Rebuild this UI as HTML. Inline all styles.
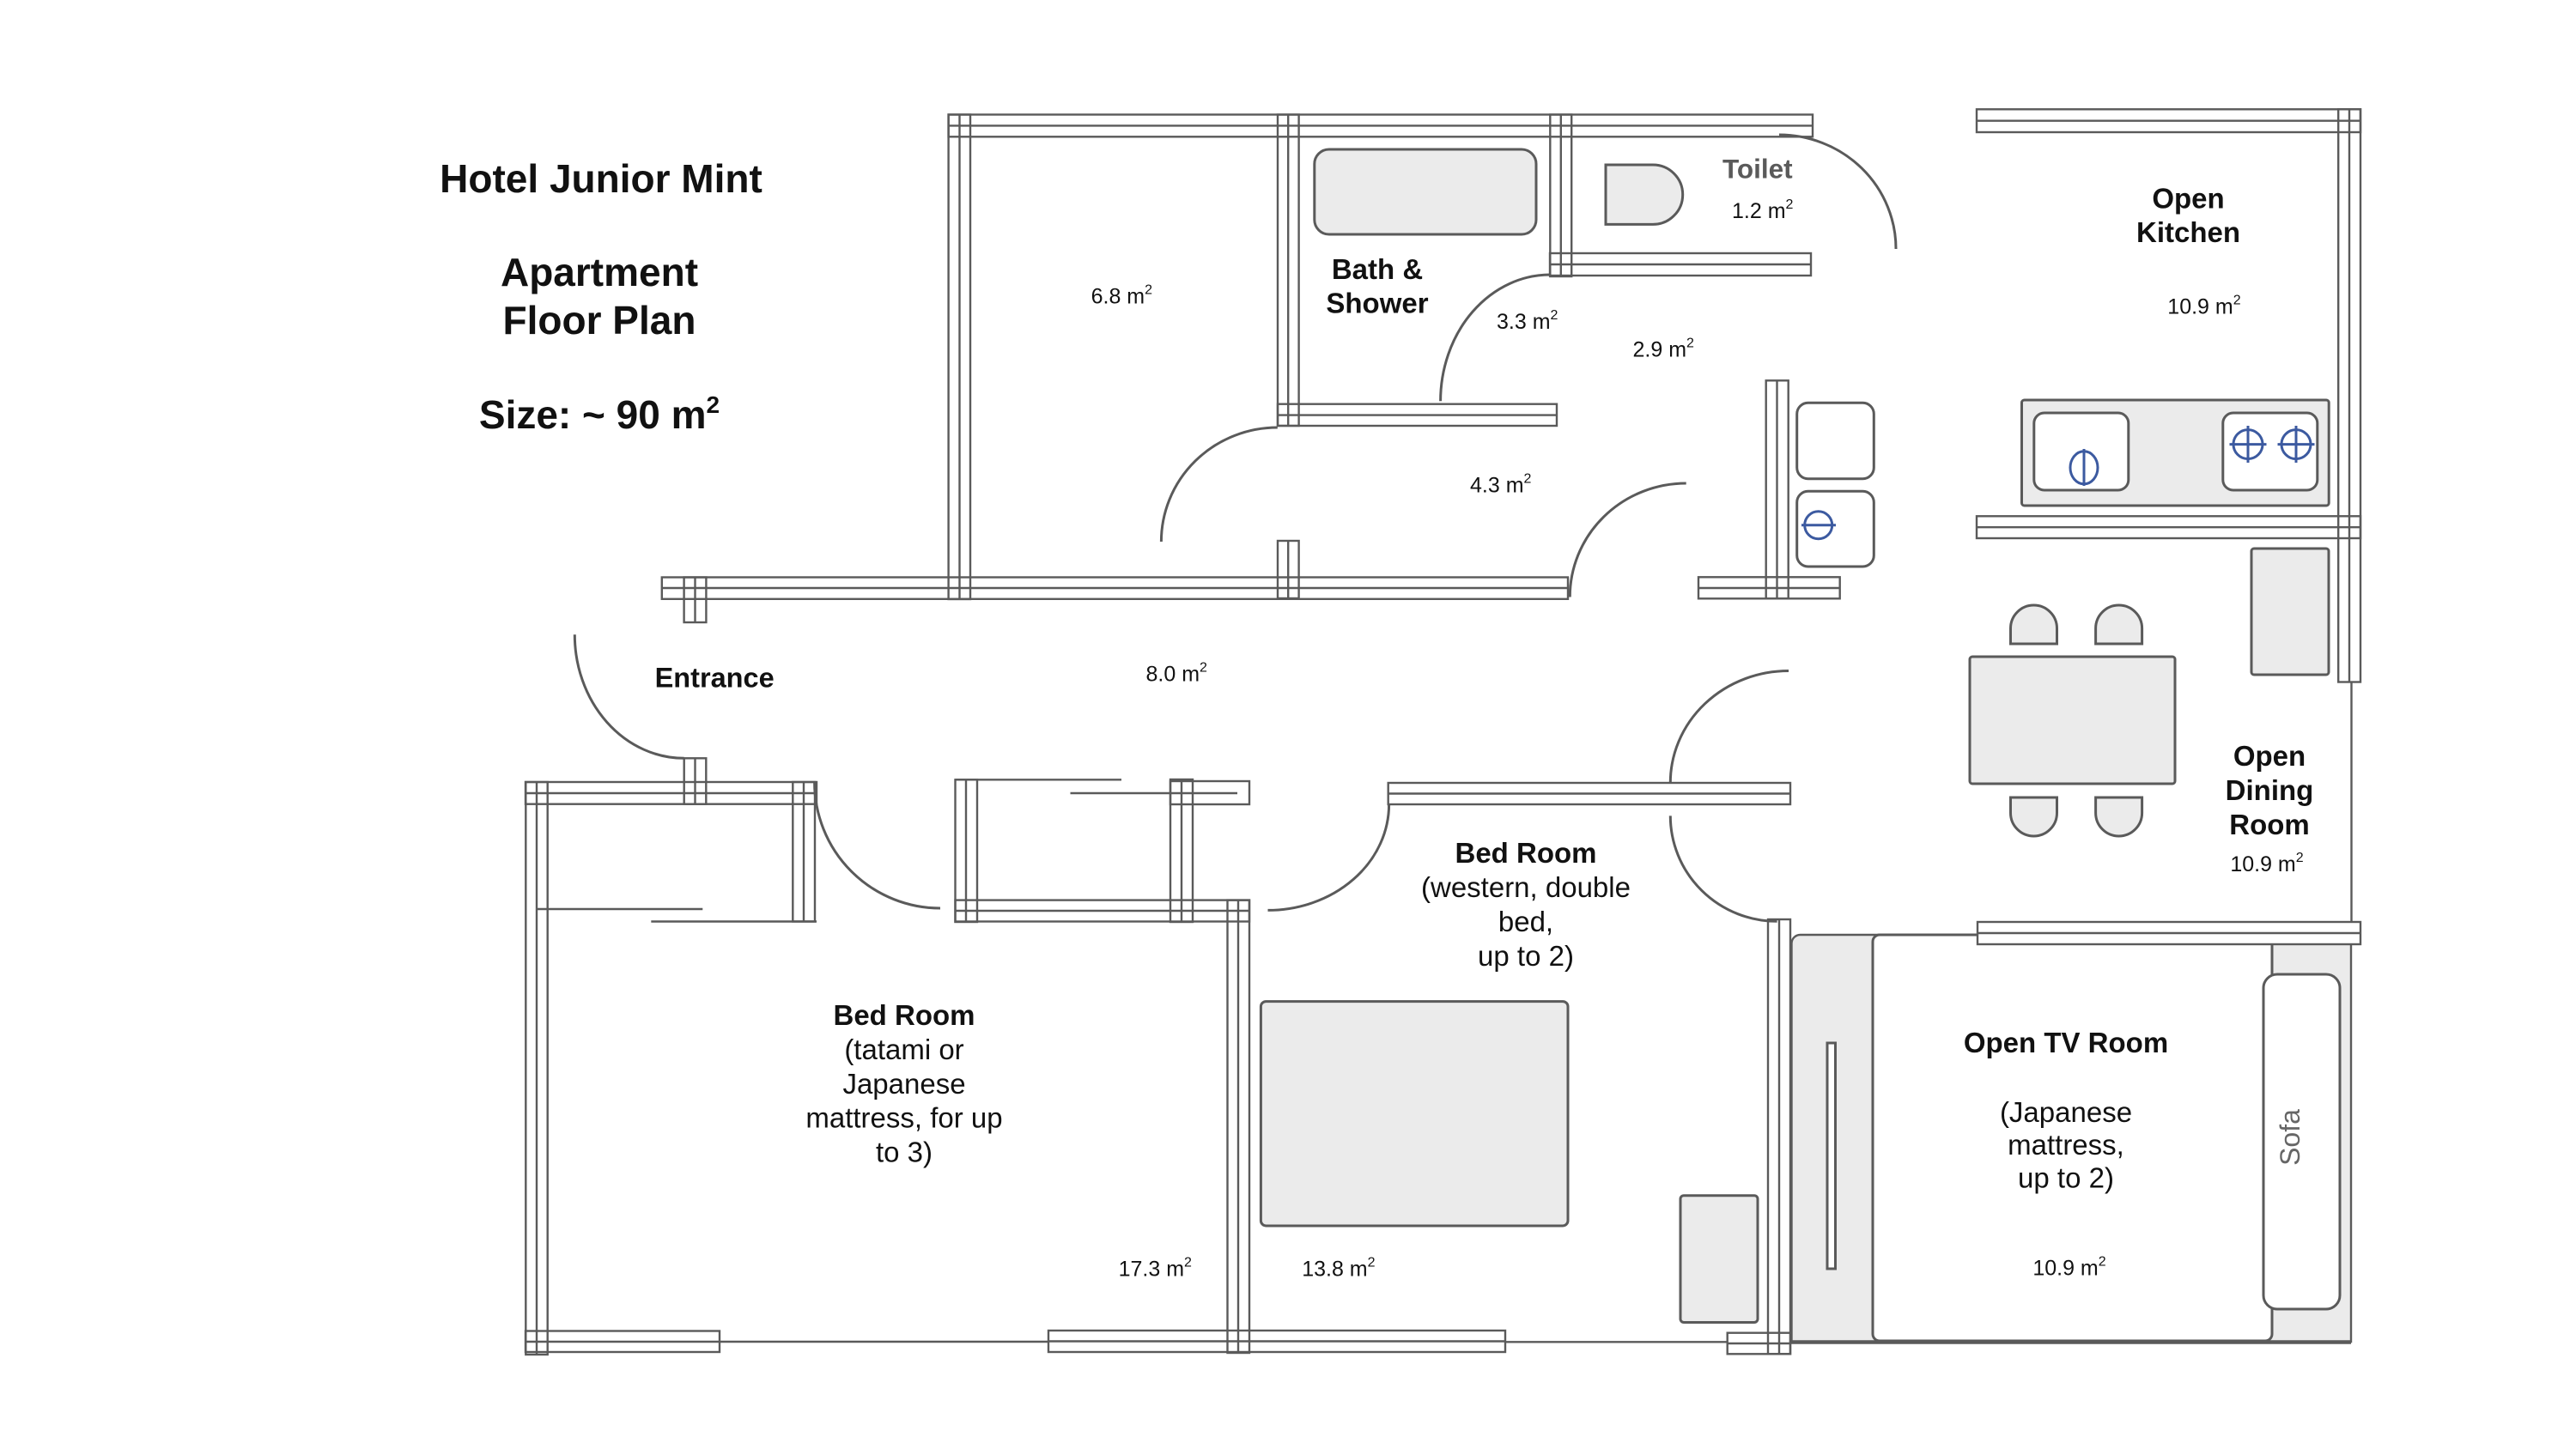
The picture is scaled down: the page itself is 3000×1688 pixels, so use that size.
<!DOCTYPE html>
<html>
<head>
<meta charset="utf-8">
<style>
  html, body { margin:0; padding:0; background:#ffffff; }
  svg { display:block; }
  .w { fill:none; stroke:#5a5a5a; stroke-width:2.4; }
  .l { fill:none; stroke:#5a5a5a; stroke-width:2.4; }
  .d { fill:none; stroke:#5a5a5a; stroke-width:3; }
  .g { fill:#ebebeb; stroke:#5a5a5a; stroke-width:3; }
  .wh { fill:#ffffff; stroke:#5a5a5a; stroke-width:3; }
  .b { fill:none; stroke:#3c5aa0; stroke-width:3; }
  text { font-family:"Liberation Sans", Arial, sans-serif; fill:#111; }
  .t { font-weight:bold; font-size:46px; }
  .h { font-weight:bold; font-size:33px; }
  .r { font-size:33px; }
  .a { font-size:25px; }
</style>
</head>
<body>
<svg width="3000" height="1688" viewBox="0 0 3000 1688" xmlns="http://www.w3.org/2000/svg">
<rect x="0" y="0" width="3000" height="1688" fill="#ffffff"/>

<!-- Title -->
<text class="t" x="700" y="224" text-anchor="middle">Hotel Junior Mint</text>
<text class="t" x="698" y="333" text-anchor="middle">Apartment</text>
<text class="t" x="698" y="389" text-anchor="middle">Floor Plan</text>
<text class="t" x="698" y="499" text-anchor="middle">Size: ~ 90 m<tspan font-size="28" dy="-18">2</tspan></text>

<!-- TV room gray floor -->
<path d="M2096.5 1089 H2738 V1563 H2086.5 V1099 A10 10 0 0 1 2096.5 1089 Z" fill="#ebebeb" stroke="#5a5a5a" stroke-width="2.4"/>
<line x1="2086" y1="1563.5" x2="2738" y2="1563.5" stroke="#5a5a5a" stroke-width="4.5"/>
<rect x="2181" y="1089" width="465" height="473" rx="8" class="wh"/>
<rect x="2636" y="1135" width="89" height="390" rx="16" class="wh"/>
<rect x="2128" y="1215" width="9.5" height="263" class="wh" stroke-width="2.4"/>
<text x="2667" y="1325" font-size="32" fill="#666" text-anchor="middle" dominant-baseline="central" transform="rotate(-90 2667 1325)" style="fill:#666">Sofa</text>

<!-- Horizontal walls -->
<g class="w">
  <rect x="1104.6" y="133.5" width="1006.4" height="25.8"/><line x1="1104.6" y1="146.4" x2="2111" y2="146.4"/>
  <rect x="1805" y="295" width="304" height="26"/><line x1="1805" y1="308" x2="2109" y2="308"/>
  <rect x="1488" y="470.7" width="325" height="25.3"/><line x1="1488" y1="483.6" x2="1813" y2="483.6"/>
  <rect x="770.8" y="672.5" width="1055.2" height="25.3"/><line x1="770.8" y1="685" x2="1826" y2="685"/>
  <rect x="1978" y="672.3" width="164.7" height="25"/><line x1="1978" y1="685" x2="2142.7" y2="685"/>
  <rect x="2302" y="127.3" width="447" height="26.7"/><line x1="2302" y1="140.7" x2="2749" y2="140.7"/>
  <rect x="2302" y="601.3" width="447" height="25.7"/><line x1="2302" y1="614.2" x2="2749" y2="614.2"/>
  <rect x="612" y="911" width="339" height="25.7"/><line x1="612" y1="924" x2="951" y2="924"/>
  <rect x="1112.5" y="1048.6" width="342.5" height="24.9"/><line x1="1112.5" y1="1061" x2="1455" y2="1061"/>
  <rect x="1363" y="910" width="92" height="27"/>
  <rect x="1616.7" y="912" width="468.3" height="25"/><line x1="1616.7" y1="924.5" x2="2085" y2="924.5"/>
  <rect x="612" y="1550.5" width="226" height="24.5"/><line x1="612" y1="1563" x2="838" y2="1563"/>
  <rect x="1221" y="1550" width="532" height="25"/><line x1="1221" y1="1562.5" x2="1753" y2="1562.5"/>
  <rect x="2011.7" y="1552.7" width="73.3" height="24.6"/><line x1="2011.7" y1="1565" x2="2085" y2="1565"/>
</g>
<rect x="2303" y="1074" width="446" height="26" fill="#ffffff" stroke="#5a5a5a" stroke-width="2.4"/>
<line x1="2303" y1="1087" x2="2749" y2="1087" class="w"/>

<!-- Vertical walls -->
<g class="w">
  <rect x="1104.6" y="133.5" width="25.4" height="564.5"/><line x1="1117.5" y1="133.5" x2="1117.5" y2="698"/>
  <rect x="1488" y="133.5" width="24.6" height="362.5"/><line x1="1500.2" y1="133.5" x2="1500.2" y2="496"/>
  <rect x="1805.3" y="133.5" width="24.9" height="188.5"/><line x1="1817.8" y1="133.5" x2="1817.8" y2="322"/>
  <rect x="796.6" y="672.5" width="25.8" height="52.5"/><line x1="809.5" y1="672.5" x2="809.5" y2="725"/>
  <rect x="1488" y="630" width="24.6" height="67"/><line x1="1500.2" y1="630" x2="1500.2" y2="697"/>
  <rect x="2056.7" y="443.3" width="26" height="254"/><line x1="2069.5" y1="443.3" x2="2069.5" y2="697.3"/>
  <rect x="2723.2" y="127.3" width="25.8" height="667.2"/><line x1="2736" y1="127.3" x2="2736" y2="794.5"/>
  <rect x="612.3" y="911" width="25.4" height="667"/><line x1="625" y1="911" x2="625" y2="1578"/>
  <rect x="796.7" y="883.3" width="25.6" height="53.4"/><line x1="809.5" y1="883.3" x2="809.5" y2="936.7"/>
  <rect x="923.3" y="911" width="25.7" height="162.5"/><line x1="936" y1="911" x2="936" y2="1073.5"/>
  <rect x="1112.5" y="908.3" width="25.5" height="165.7"/><line x1="1125" y1="908.3" x2="1125" y2="1074"/>
  <rect x="1363" y="908" width="26" height="166"/><line x1="1376" y1="908" x2="1376" y2="1074"/>
  <rect x="1429.5" y="1048.6" width="25.5" height="527.4"/><line x1="1442" y1="1048.6" x2="1442" y2="1576"/>
  <rect x="2059" y="1071" width="26" height="506.3"/><line x1="2072" y1="1071" x2="2072" y2="1577.3"/>
</g>

<!-- Single lines -->
<g class="l">
  <line x1="1112.5" y1="908.3" x2="1306" y2="908.3"/>
  <line x1="1246.5" y1="924" x2="1441" y2="924"/>
  <line x1="625" y1="1059" x2="818.3" y2="1059"/>
  <line x1="758.3" y1="1073.5" x2="951" y2="1073.5"/>
  <line x1="838" y1="1563" x2="1221" y2="1563"/>
  <line x1="1752.7" y1="1563.3" x2="2011.7" y2="1563.3"/>
  <line x1="2738.5" y1="794.5" x2="2738.5" y2="1074"/>
</g>

<!-- Door arcs -->
<g class="d">
  <path d="M669.3 739.3 A127.4 144 0 0 0 796.7 883.3"/>
  <path d="M1352.4 631 A135.4 133 0 0 1 1487.8 498"/>
  <path d="M1677.6 467.3 A127.7 147.3 0 0 1 1805.3 320"/>
  <path d="M1828.3 695.5 A135.4 132.5 0 0 1 1963.7 563"/>
  <path d="M2072 157 A136 133 0 0 1 2208 290"/>
  <path d="M948.6 911.5 A146.5 146.5 0 0 0 1095 1058"/>
  <path d="M1617.6 937 A141 123.4 0 0 1 1476.5 1060.4"/>
  <path d="M2083 781.5 A137.7 130.5 0 0 0 1945.3 912"/>
  <path d="M1945.3 950.4 A124.3 123 0 0 0 2069.6 1073.3"/>
</g>

<!-- Bath & toilet fixtures -->
<rect x="1530.8" y="174" width="258.2" height="99" rx="17" class="g"/>
<path d="M1870 192 H1925 A34.7 34.7 0 0 1 1925 261.4 H1870 Z" class="g"/>

<!-- Washer / boxes near kitchen partition -->
<rect x="2092.7" y="469.3" width="89.6" height="88.4" rx="13" class="wh"/>
<rect x="2092.7" y="572.3" width="89.6" height="87.7" rx="13" class="wh"/>
<circle cx="2117.7" cy="611.7" r="16" class="b"/>
<line x1="2098" y1="611.7" x2="2138" y2="611.7" class="b"/>

<!-- Kitchen -->
<rect x="2354.5" y="466" width="357.7" height="123" rx="3" class="g"/>
<rect x="2368.8" y="481" width="110" height="90" rx="12" class="wh"/>
<rect x="2588.8" y="481" width="110" height="90" rx="12" class="wh"/>
<ellipse cx="2427" cy="544.8" rx="16" ry="19" class="b"/>
<line x1="2427" y1="523" x2="2427" y2="566" class="b"/>
<circle cx="2618" cy="517.6" r="17" class="b"/>
<line x1="2596.5" y1="517.6" x2="2639.5" y2="517.6" class="b"/>
<line x1="2618" y1="496" x2="2618" y2="539" class="b"/>
<circle cx="2674" cy="517.6" r="17" class="b"/>
<line x1="2652.5" y1="517.6" x2="2695.5" y2="517.6" class="b"/>
<line x1="2674" y1="496" x2="2674" y2="539" class="b"/>
<rect x="2622" y="639" width="90" height="147" rx="3" class="g"/>

<!-- Dining -->
<rect x="2294" y="765" width="239" height="148" rx="3" class="g"/>
<path d="M2341.5 750 V732 A27 27 0 0 1 2395.5 732 V750 Z" class="g"/>
<path d="M2440.6 750 V732 A27 27 0 0 1 2494.6 732 V750 Z" class="g"/>
<path d="M2341.5 929 H2395.5 V947 A27 27 0 0 1 2341.5 947 Z" class="g"/>
<path d="M2440.6 929 H2494.6 V947 A27 27 0 0 1 2440.6 947 Z" class="g"/>

<!-- Bedroom furniture -->
<rect x="1468.4" y="1166.6" width="357.6" height="261.4" rx="6" class="g"/>
<rect x="1957" y="1392.7" width="90" height="147.8" rx="4" class="g"/>

<!-- Labels -->
<text class="a" x="1270.6" y="353.5">6.8 m<tspan font-size="16" dy="-11">2</tspan></text>
<text class="h" x="1604" y="325" text-anchor="middle">Bath &amp;</text>
<text class="h" x="1604" y="364.5" text-anchor="middle">Shower</text>
<text x="2006" y="207.6" font-size="31.5" font-weight="bold" style="fill:#5a5a5a">Toilet</text>
<text class="a" x="2017" y="254">1.2 m<tspan font-size="16" dy="-11">2</tspan></text>
<text class="a" x="1743" y="383">3.3 m<tspan font-size="16" dy="-11">2</tspan></text>
<text class="a" x="1901.5" y="415.7">2.9 m<tspan font-size="16" dy="-11">2</tspan></text>
<text class="a" x="1712" y="573.5">4.3 m<tspan font-size="16" dy="-11">2</tspan></text>
<text class="h" x="2548.5" y="242.5" text-anchor="middle">Open</text>
<text class="h" x="2548.5" y="282" text-anchor="middle">Kitchen</text>
<text class="a" x="2524.3" y="365.5">10.9 m<tspan font-size="16" dy="-11">2</tspan></text>
<text x="762.6" y="800.7" font-size="32.5" font-weight="bold">Entrance</text>
<text class="a" x="1334.5" y="793.5">8.0 m<tspan font-size="16" dy="-11">2</tspan></text>

<text class="h" x="2643" y="892" text-anchor="middle">Open</text>
<text class="h" x="2643" y="932" text-anchor="middle">Dining</text>
<text class="h" x="2643" y="972" text-anchor="middle">Room</text>
<text class="a" x="2640" y="1015" text-anchor="middle">10.9 m<tspan font-size="16" dy="-11">2</tspan></text>

<text class="h" x="1053" y="1194" text-anchor="middle">Bed Room</text>
<text class="r" x="1053" y="1234" text-anchor="middle">(tatami or</text>
<text class="r" x="1053" y="1274" text-anchor="middle">Japanese</text>
<text class="r" x="1053" y="1313.5" text-anchor="middle">mattress, for up</text>
<text class="r" x="1053" y="1353.5" text-anchor="middle">to 3)</text>
<text class="a" x="1302.6" y="1486.7">17.3 m<tspan font-size="16" dy="-11">2</tspan></text>

<text class="h" x="1777" y="1005" text-anchor="middle">Bed Room</text>
<text class="r" x="1777" y="1045" text-anchor="middle">(western, double</text>
<text class="r" x="1777" y="1085" text-anchor="middle">bed,</text>
<text class="r" x="1777" y="1125" text-anchor="middle">up to 2)</text>
<text class="a" x="1516.2" y="1486.5">13.8 m<tspan font-size="16" dy="-11">2</tspan></text>

<text class="h" x="2406" y="1226" text-anchor="middle">Open TV Room</text>
<text class="r" x="2406" y="1307" text-anchor="middle">(Japanese</text>
<text class="r" x="2406" y="1345" text-anchor="middle">mattress,</text>
<text class="r" x="2406" y="1383.5" text-anchor="middle">up to 2)</text>
<text class="a" x="2410" y="1485.5" text-anchor="middle">10.9 m<tspan font-size="16" dy="-11">2</tspan></text>
</svg>
</body>
</html>
